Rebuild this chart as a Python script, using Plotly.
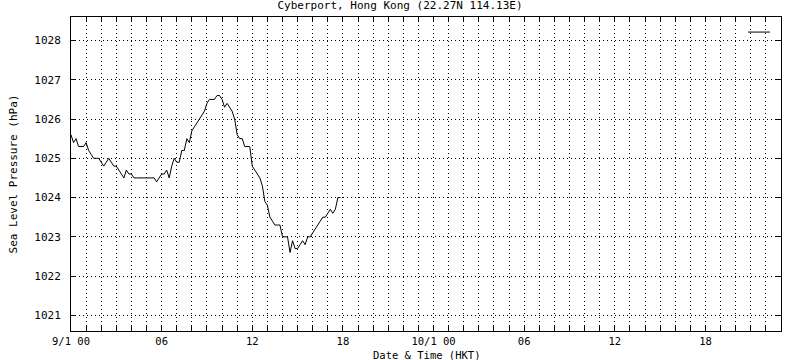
import pandas as pd
import plotly.graph_objects as go

title_text = "Cyberport, Hong Kong (22.27N 114.13E)"
x_title = "Date & Time (HKT)"
y_title = "Sea Level Pressure (hPa)"

start_time = "2025-01-09 00:00"
end_time = "2025-01-10 23:00"
sample_freq = "10min"

# sea level pressure (hPa), 10-minute readings from 9/1 00:00
pressure = [
    1025.6, 1025.4, 1025.5, 1025.3, 1025.3, 1025.3, 1025.4, 1025.2, 1025.1, 1025.0,
    1025.0, 1025.0, 1024.9, 1024.8, 1024.9, 1025.0, 1024.9, 1024.8, 1024.8, 1024.7,
    1024.6, 1024.5, 1024.7, 1024.6, 1024.6, 1024.5, 1024.5, 1024.5, 1024.5, 1024.5,
    1024.5, 1024.5, 1024.5, 1024.5, 1024.4, 1024.5, 1024.6, 1024.6, 1024.7, 1024.5,
    1024.8, 1025.0, 1024.9, 1024.9, 1025.2, 1025.2, 1025.5, 1025.4, 1025.7, 1025.8,
    1025.9, 1026.0, 1026.1, 1026.2, 1026.4, 1026.5, 1026.5, 1026.5, 1026.6, 1026.6,
    1026.5, 1026.3, 1026.4, 1026.3, 1026.2, 1026.0, 1025.6, 1025.5, 1025.5, 1025.3,
    1025.3, 1025.3, 1024.8, 1024.7, 1024.6, 1024.5, 1024.3, 1023.9, 1023.8, 1023.5,
    1023.4, 1023.3, 1023.3, 1023.3, 1023.0, 1023.0, 1023.0, 1022.6, 1022.9, 1022.7,
    1022.7, 1022.8, 1022.9, 1022.8, 1023.0, 1023.0, 1023.1, 1023.2, 1023.3, 1023.4,
    1023.5, 1023.5, 1023.6, 1023.7, 1023.6, 1023.7, 1024.0, 1024.0,
]

x_major_labels = ["9/1 00", "06", "12", "18", "10/1 00", "06", "12", "18"]
y_ticks = [1021, 1022, 1023, 1024, 1025, 1026, 1027, 1028]
y_range = [1020.6, 1028.6]

times = pd.date_range(start_time, periods=len(pressure), freq=sample_freq)
hour_ticks = pd.date_range(start_time, end_time, freq="1h")
tick_text = []
lab_i = 0
for i, t in enumerate(hour_ticks):
    if i % 6 == 0:
        tick_text.append(x_major_labels[lab_i])
        lab_i += 1
    else:
        tick_text.append("")

FONT = "DejaVu Sans Mono"

fig = go.Figure()
fig.add_trace(go.Scatter(
    x=times, y=pressure, mode="lines",
    line=dict(color="black", width=1),
    showlegend=False, hoverinfo="skip",
))

# legend sample line (gnuplot key with empty title)
fig.add_shape(type="line", xref="paper", yref="paper",
              x0=0.9535, x1=0.9845, y0=0.952, y1=0.952,
              line=dict(color="black", width=1))

# x-axis title as annotation, placed below the tick labels
fig.add_annotation(text=x_title, xref="paper", yref="paper",
                   x=0.5, y=-(355 - 331) / 314, xanchor="center", yanchor="middle",
                   showarrow=False, font=dict(family=FONT, size=10.5, color="black"))

fig.update_layout(
    width=800, height=360,
    margin=dict(l=71, r=19, t=17, b=29),
    paper_bgcolor="white", plot_bgcolor="white",
    font=dict(family=FONT, size=11, color="black"),
    title=dict(text=title_text, x=0.5, xanchor="center", y=1 - 5 / 360,
               yanchor="middle", yref="container",
               font=dict(family=FONT, size=11, color="black")),
    showlegend=False,
)

fig.update_xaxes(
    type="date", automargin=False,
    range=[pd.Timestamp(start_time), pd.Timestamp(end_time)],
    tickmode="array", tickvals=list(hour_ticks), ticktext=tick_text,
    tickfont=dict(family=FONT, size=10.5),
    ticks="inside", ticklen=5, tickcolor="black", tickwidth=1,
    showline=True, linecolor="black", linewidth=1, mirror="ticks",
    showgrid=True, gridcolor="black", gridwidth=1, griddash="1px,3px",
    zeroline=False,
    ticklabelstandoff=0,
)

fig.update_yaxes(
    automargin=False,
    range=y_range,
    tickmode="array", tickvals=y_ticks, ticktext=[str(v) for v in y_ticks],
    tickfont=dict(family=FONT, size=11),
    ticks="inside", ticklen=5, tickcolor="black", tickwidth=1,
    showline=True, linecolor="black", linewidth=1, mirror="ticks",
    showgrid=True, gridcolor="black", gridwidth=1, griddash="1px,3px",
    zeroline=False,
    ticklabelstandoff=7,
    title=dict(text=y_title, standoff=14, font=dict(family=FONT, size=11)),
)

fig.write_html("out.html", config={"displayModeBar": False},
               post_script="document.body.style.margin='0';")
